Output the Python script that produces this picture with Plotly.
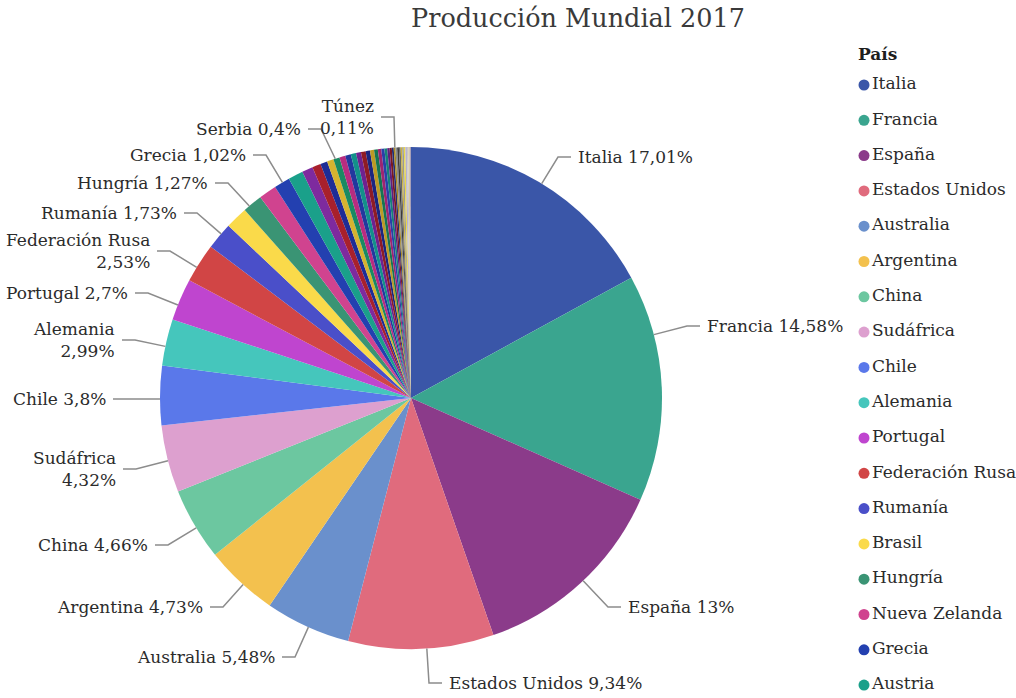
import math
import plotly.graph_objects as go

# --- data: share of world wine production 2017 (%) ---
countries = [
    "Italia", "Francia", "España", "Estados Unidos", "Australia", "Argentina",
    "China", "Sudáfrica", "Chile", "Alemania", "Portugal", "Federación Rusa",
    "Rumanía", "Brasil", "Hungría", "Nueva Zelanda", "Grecia", "Austria",
    "Moldavia", "Ucrania", "Georgia", "Suiza", "Serbia", "Bulgaria", "Croacia",
    "Uruguay", "México", "Perú", "Canadá", "Japón", "Eslovenia",
    "República Checa", "Turquía", "Eslovaquia", "Macedonia", "Kazajistán",
    "Marruecos", "Túnez", "Argelia", "Chipre", "Líbano", "Israel",
    "Luxemburgo", "Bolivia", "Albania", "Montenegro", "Bélgica", "Malta",
]
shares = [
    17.01, 14.58, 13.00, 9.34, 5.48, 4.73,
    4.66, 4.32, 3.80, 2.99, 2.70, 2.53,
    1.73, 1.44, 1.27, 1.14, 1.02, 0.96,
    0.70, 0.55, 0.45, 0.42, 0.40, 0.38, 0.36,
    0.34, 0.32, 0.30, 0.28, 0.26, 0.24,
    0.22, 0.20, 0.18, 0.15, 0.14,
    0.12, 0.11, 0.11, 0.11, 0.11, 0.10,
    0.10, 0.10, 0.10, 0.09, 0.09, 0.08,
]
slice_colors = [
    "#3A56A8", "#3AA58F", "#8B3B8A", "#E06B7D", "#6A90CC", "#F3C14E",
    "#6CC7A0", "#DDA0CF", "#5A78EA", "#45C6BC", "#BF45CF", "#D14545",
    "#4A4FC9", "#FADA4A", "#3A9474", "#D0438F", "#2340B0", "#1AA08A",
    "#7E2A9E", "#A8202C", "#1E2C96", "#D6B330", "#1A8A62", "#B82C80",
    "#23389E", "#13908A", "#6E2290", "#8E1B25", "#1B2580", "#BC9A25",
    "#167552", "#9E2570", "#2A3FA8", "#17807A", "#5E1E80", "#7A1820",
    "#232E70", "#A88A20", "#8A8A8A", "#3B3B3B", "#6A6A6A", "#C9B040",
    "#9A9A9A", "#E8D84A", "#B8B0D0", "#C8C8C8", "#D8C8A0", "#A8A0B8",
]

# slices that carry an outside label: (text x, text y, side, two lines)
label_layout = {
    "Italia":          (576, 157, "r", False),
    "Francia":         (705, 326, "r", False),
    "España":          (626, 607, "r", False),
    "Estados Unidos":  (447, 683, "r", False),
    "Australia":       (277, 657, "l", False),
    "Argentina":       (205, 607, "l", False),
    "China":           (150, 545, "l", False),
    "Sudáfrica":       (118, 469, "l", True),
    "Chile":           (108, 399, "l", False),
    "Alemania":        (117, 340, "l", True),
    "Portugal":        (130, 293, "l", False),
    "Federación Rusa": (152, 251, "l", True),
    "Rumanía":         (179, 213, "l", False),
    "Hungría":         (210, 183, "l", False),
    "Grecia":          (248, 155, "l", False),
    "Serbia":          (303, 129, "l", False),
    "Túnez":           (376, 117, "l", True),
}
legend_rows = 18   # entries visible in the legend column

W, H = 1016, 698
CX, CY, R = 411, 398, 251          # pie centre and radius in pixels
FONT = "DejaVu Serif"
TEXT_COLOR = "#2B2B2B"
LINE_COLOR = "#8C8C8C"


def fx(x):
    return x / W


def fy(y):
    return 1 - y / H


def fmt(v):
    return f"{v:g}".replace(".", ",") + "%"


fig = go.Figure()

fig.add_trace(go.Pie(
    labels=countries,
    values=shares,
    sort=False,
    direction="clockwise",
    rotation=0,
    marker=dict(colors=slice_colors, line=dict(width=0)),
    textinfo="none",
    hoverinfo="label+value",
    showlegend=False,
    domain=dict(x=[fx(CX - R), fx(CX + R)], y=[fy(CY + R), fy(CY - R)]),
))

# outside labels with leader lines
total = sum(shares)
cum = 0.0
annotations = []
shapes = []
for name, v in zip(countries, shares):
    a0 = cum / total * 360
    a1 = (cum + v) / total * 360
    cum += v
    if name not in label_layout:
        continue
    tx, ty, side, two = label_layout[name]
    text = name + ("<br>" if two else " ") + fmt(v)
    if side == "r":
        edge = tx - 5
        ex = edge - 13
        xanchor = "left"
    else:
        edge = tx + 5
        ex = edge + 13
        xanchor = "right"
    ang = math.degrees(math.atan2(ex - CX, CY - ty)) % 360
    m = min(0.3 * (a1 - a0), 2.0)
    ang = max(a0 + m, min(a1 - m, ang))
    ax = CX + R * math.sin(math.radians(ang))
    ay = CY - R * math.cos(math.radians(ang))
    shapes.append(dict(
        type="path", xref="paper", yref="paper",
        path=f"M {fx(ax)},{fy(ay)} L {fx(ex)},{fy(ty)} L {fx(edge)},{fy(ty)}",
        line=dict(color=LINE_COLOR, width=1.5),
    ))
    annotations.append(dict(
        x=fx(tx), y=fy(ty), xref="paper", yref="paper",
        text=text, showarrow=False, xanchor=xanchor, yanchor="middle",
        align="right" if side == "l" else "left",
        font=dict(family=FONT, size=17, color=TEXT_COLOR),
    ))

# legend drawn as a marker column on its own axes
leg_names = countries[:legend_rows]
leg_colors = slice_colors[:legend_rows]
fig.add_trace(go.Scatter(
    x=[14] * legend_rows,
    y=list(range(legend_rows)),
    mode="markers+text",
    marker=dict(color=leg_colors, size=11, symbol="circle"),
    text=leg_names,
    textposition="middle right",
    textfont=dict(family=FONT, size=17, color=TEXT_COLOR),
    hoverinfo="skip",
    showlegend=False,
    xaxis="x2", yaxis="y2",
    cliponaxis=False,
))

annotations.append(dict(
    x=fx(856), y=fy(54), xref="paper", yref="paper",
    text="<b>País</b>", showarrow=False, xanchor="left", yanchor="middle",
    font=dict(family=FONT, size=17, color="#1E1E1E"),
))

step = 35.3
first = 85
fig.update_layout(
    width=W, height=H,
    margin=dict(l=0, r=0, t=0, b=0),
    paper_bgcolor="white", plot_bgcolor="white",
    title=dict(
        text="Producción Mundial 2017",
        x=fx(578), y=fy(18), xanchor="center", yanchor="middle",
        font=dict(family=FONT, size=25.5, color="#3A3A3A"),
    ),
    xaxis2=dict(domain=[fx(850), 1], range=[0, W - 850], visible=False,
                fixedrange=True),
    yaxis2=dict(domain=[0, 1], range=[(H - first) / step, -first / step],
                visible=False, fixedrange=True),
    shapes=shapes,
    annotations=annotations,
)

fig.write_html("out.html")
